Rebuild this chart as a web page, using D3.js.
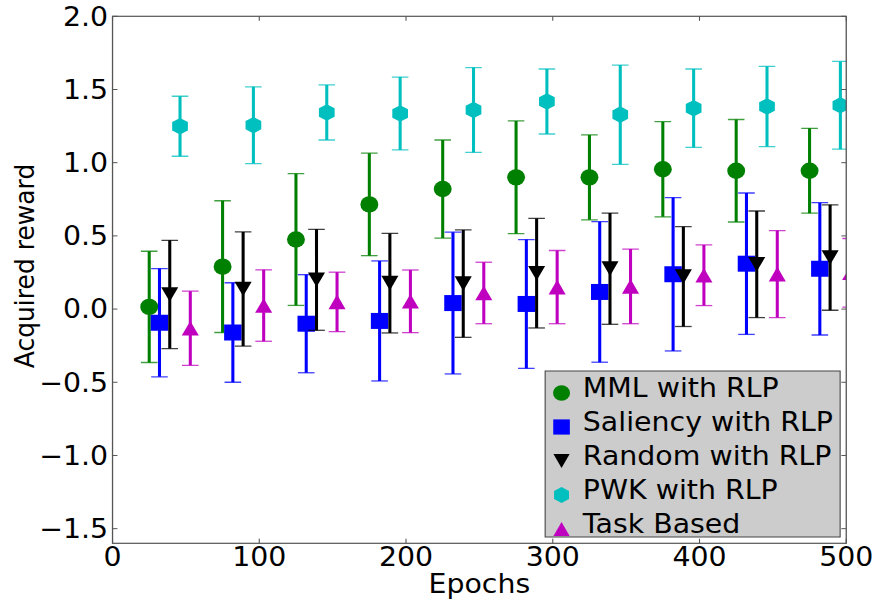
<!DOCTYPE html>
<html>
<head>
<meta charset="utf-8">
<script src="https://cdn.jsdelivr.net/npm/d3@7"></script>
<style>
  html, body { margin: 0; padding: 0; background: #fff; }
  svg { display: block; }
  text { font-family: "DejaVu Sans", sans-serif; fill: #000; }
</style>
</head>
<body>
<svg id="chart" width="874" height="601"></svg>
<script>
// Epoch groups and per-series horizontal offsets (in epochs)
const epochs = [25, 75, 125, 175, 225, 275, 325, 375, 425, 475];

const seriesNames = ["MML with RLP", "Saliency with RLP", "Random with RLP", "PWK with RLP", "Task Based"];
const seriesOffsets = [0, 7, 14, 21, 28];
const seriesColors = ["#008000", "#0000ff", "#000000", "#00bfbf", "#bf00bf"];
const seriesMarkers = ["circle", "square", "triangleDown", "hexagon", "triangleUp"];

// Mean acquired reward and error (±) per epoch group
const mmlMean = [0.015, 0.29, 0.475, 0.715, 0.82, 0.90, 0.90, 0.955, 0.945, 0.945];
const mmlErr  = [0.38, 0.45, 0.45, 0.35, 0.335, 0.385, 0.29, 0.325, 0.35, 0.29];

const salMean = [-0.093, -0.16, -0.10, -0.081, 0.041, 0.035, 0.117, 0.238, 0.31, 0.275];
const salErr  = [0.37, 0.34, 0.335, 0.41, 0.484, 0.44, 0.48, 0.524, 0.483, 0.452];

const rndMean = [0.10, 0.137, 0.20, 0.177, 0.174, 0.245, 0.276, 0.222, 0.306, 0.352];
const rndErr  = [0.37, 0.39, 0.345, 0.34, 0.367, 0.374, 0.38, 0.341, 0.364, 0.36];

const pwkMean = [1.249, 1.256, 1.343, 1.336, 1.36, 1.418, 1.328, 1.372, 1.384, 1.392];
const pwkErr  = [0.205, 0.262, 0.188, 0.249, 0.29, 0.222, 0.339, 0.268, 0.274, 0.30];

const taskMean = [-0.131, 0.024, 0.049, 0.053, 0.11, 0.15, 0.155, 0.231, 0.239, 0.248];
const taskErr  = [0.253, 0.244, 0.203, 0.214, 0.21, 0.25, 0.255, 0.207, 0.297, 0.234];

const xTicks = [0, 100, 200, 300, 400, 500];
const yTicks = [-1.5, -1.0, -0.5, 0.0, 0.5, 1.0, 1.5, 2.0];

const means = [mmlMean, salMean, rndMean, pwkMean, taskMean];
const errs = [mmlErr, salErr, rndErr, pwkErr, taskErr];

// Figure is laid out on an 800-wide canvas and stretched to the page width
const baseW = 800, H = 601, stretch = 874 / baseW;
const plot = { left: 103, right: 774.6, top: 16.3, bottom: 543.3 };
const fontSize = 26;

const x = d3.scaleLinear().domain([0, 500]).range([plot.left, plot.right]);
const y = d3.scaleLinear().domain([-1.6, 2.0]).range([plot.bottom, plot.top]);

const svg = d3.select("#chart");
const root = svg.append("g").attr("transform", `scale(${stretch},1)`);

root.append("defs").append("clipPath").attr("id", "plotClip")
  .append("rect")
  .attr("x", plot.left).attr("y", plot.top)
  .attr("width", plot.right - plot.left).attr("height", plot.bottom - plot.top);

// Marker shapes
function markerPath(kind) {
  switch (kind) {
    case "circle": {
      const r = 8.2;
      return `M${-r},0A${r},${r} 0 1,0 ${r},0A${r},${r} 0 1,0 ${-r},0Z`;
    }
    case "square": {
      const s = 8;
      return `M${-s},${-s}H${s}V${s}H${-s}Z`;
    }
    case "triangleUp": {
      const w = 7.8, h = 7.3;
      return `M0,${-h}L${w},${h}L${-w},${h}Z`;
    }
    case "triangleDown": {
      const w = 7.8, h = 7.3;
      return `M0,${h}L${w},${-h}L${-w},${-h}Z`;
    }
    case "hexagon": {
      const r = 8.3;
      const pts = d3.range(6).map(i => {
        const a = Math.PI / 2 + i * Math.PI / 3;
        return [r * Math.cos(a), -r * Math.sin(a)];
      });
      return "M" + pts.map(p => p.join(",")).join("L") + "Z";
    }
  }
}

// Data layer (clipped to the axes)
const dataLayer = root.append("g").attr("clip-path", "url(#plotClip)");
const capHalf = 7.6;

seriesNames.forEach((name, si) => {
  const color = seriesColors[si];
  const rows = epochs.map((e, i) => ({ ex: e + seriesOffsets[si], m: means[si][i], e: errs[si][i] }));
  const g = dataLayer.append("g").attr("class", "series");

  g.selectAll("line.bar").data(rows).join("line")
    .attr("class", "bar")
    .attr("x1", d => x(d.ex)).attr("x2", d => x(d.ex))
    .attr("y1", d => y(d.m - d.e)).attr("y2", d => y(d.m + d.e))
    .attr("stroke", color).attr("stroke-width", 2.8);

  ["lo", "hi"].forEach(side => {
    g.selectAll("line.cap-" + side).data(rows).join("line")
      .attr("class", "cap-" + side)
      .attr("x1", d => x(d.ex) - capHalf).attr("x2", d => x(d.ex) + capHalf)
      .attr("y1", d => y(side === "lo" ? d.m - d.e : d.m + d.e))
      .attr("y2", d => y(side === "lo" ? d.m - d.e : d.m + d.e))
      .attr("stroke", color).attr("stroke-width", 1.3).attr("stroke-opacity", 0.75);
  });

  g.selectAll("path.mark").data(rows).join("path")
    .attr("class", "mark")
    .attr("d", markerPath(seriesMarkers[si]))
    .attr("transform", d => `translate(${x(d.ex)},${y(d.m)})`)
    .attr("fill", color);
});

// Axes frame and inward ticks on all four sides
const spineColor = "#555";
const tickLen = 4.5;
const axisG = root.append("g");

axisG.selectAll("line.xt-b").data(xTicks).join("line")
  .attr("class", "xt-b")
  .attr("x1", d => x(d)).attr("x2", d => x(d))
  .attr("y1", plot.bottom).attr("y2", plot.bottom - tickLen)
  .attr("stroke", spineColor).attr("stroke-width", 1);
axisG.selectAll("line.xt-t").data(xTicks).join("line")
  .attr("class", "xt-t")
  .attr("x1", d => x(d)).attr("x2", d => x(d))
  .attr("y1", plot.top).attr("y2", plot.top + tickLen)
  .attr("stroke", spineColor).attr("stroke-width", 1);
axisG.selectAll("line.yt-l").data(yTicks).join("line")
  .attr("class", "yt-l")
  .attr("x1", plot.left).attr("x2", plot.left + tickLen)
  .attr("y1", d => y(d)).attr("y2", d => y(d))
  .attr("stroke", spineColor).attr("stroke-width", 1);
axisG.selectAll("line.yt-r").data(yTicks).join("line")
  .attr("class", "yt-r")
  .attr("x1", plot.right).attr("x2", plot.right - tickLen)
  .attr("y1", d => y(d)).attr("y2", d => y(d))
  .attr("stroke", spineColor).attr("stroke-width", 1);

axisG.append("rect")
  .attr("x", plot.left).attr("y", plot.top)
  .attr("width", plot.right - plot.left).attr("height", plot.bottom - plot.top)
  .attr("fill", "none").attr("stroke", spineColor).attr("stroke-width", 1.2);

const fmtY = d => (d < 0 ? "\u2212" : "") + Math.abs(d).toFixed(1);

axisG.selectAll("text.xl").data(xTicks).join("text")
  .attr("class", "xl")
  .attr("x", d => x(d)).attr("y", 566.5)
  .attr("text-anchor", "middle").attr("font-size", fontSize)
  .text(d => d);

axisG.selectAll("text.yl").data(yTicks).join("text")
  .attr("class", "yl")
  .attr("x", plot.left - 4).attr("y", d => y(d))
  .attr("dy", "0.36em")
  .attr("text-anchor", "end").attr("font-size", fontSize)
  .text(fmtY);

root.append("text")
  .attr("x", (plot.left + plot.right) / 2).attr("y", 593.5)
  .attr("text-anchor", "middle").attr("font-size", fontSize)
  .text("Epochs");

root.append("text")
  .attr("transform", `translate(31,${266}) rotate(-90)`)
  .attr("text-anchor", "middle").attr("font-size", 25)
  .text("Acquired reward");

// Legend
const legend = root.append("g");
legend.append("rect")
  .attr("x", 499).attr("y", 371).attr("width", 270).attr("height", 166)
  .attr("fill", "#cccccc").attr("stroke", "#444").attr("stroke-width", 1);

const legendRows = seriesNames.map((n, i) => ({ name: n, i }));
const rowStep = 34, firstBaseline = 397;
legend.selectAll("path.lm").data(legendRows).join("path")
  .attr("class", "lm")
  .attr("d", d => markerPath(seriesMarkers[d.i]))
  .attr("transform", d => `translate(514,${firstBaseline - 4 + d.i * rowStep}) scale(0.95)`)
  .attr("fill", d => seriesColors[d.i]);
legend.selectAll("text.lt").data(legendRows).join("text")
  .attr("class", "lt")
  .attr("x", 533.5).attr("y", d => firstBaseline + d.i * rowStep)
  .attr("font-size", fontSize)
  .text(d => d.name);
</script>
</body>
</html>
